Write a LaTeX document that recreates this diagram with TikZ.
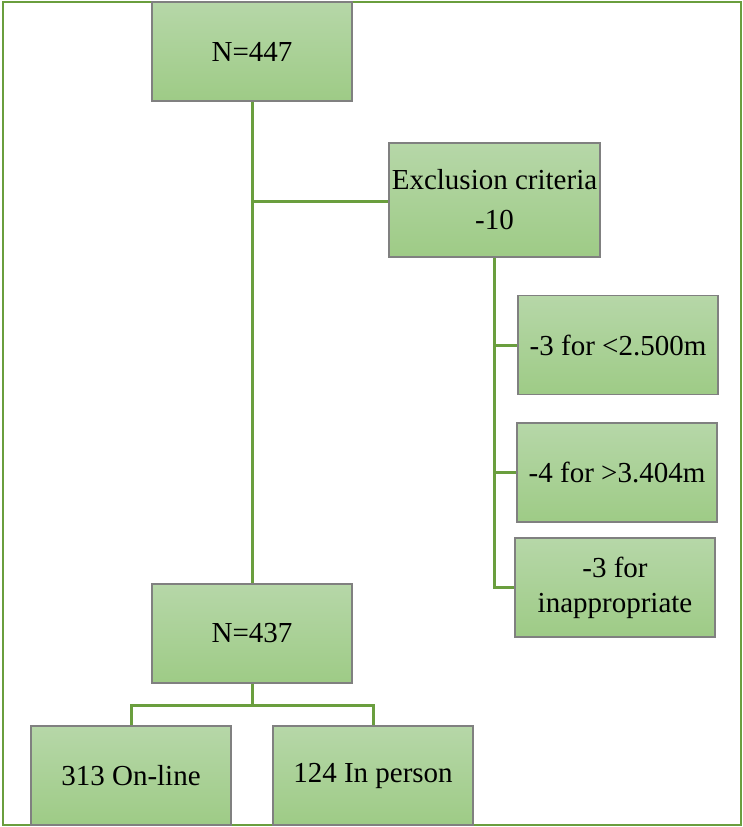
\documentclass[tikz,border=0pt]{standalone}
\usepackage{fontspec}
\setmainfont{Liberation Serif}
\begin{document}
\begin{tikzpicture}[x=1pt,y=-1pt,
  box/.style={draw=boxgray, line width=1.2pt, top color=topgreen, bottom color=botgreen,
    minimum width=200pt, minimum height=99pt, inner sep=0pt, align=center,
    font=\fontsize{29}{40}\selectfont},
  link/.style={draw=linkgreen, line width=3pt}]
\definecolor{boxgray}{HTML}{808080}
\definecolor{topgreen}{HTML}{B6D7A8}
\definecolor{botgreen}{HTML}{9ECB86}
\definecolor{linkgreen}{HTML}{6A9E3E}
\useasboundingbox (0,0) rectangle (743,827);
\draw[draw=linkgreen, line width=2.6pt] (3,2) rectangle (741,825);
\node[box] (n447) at (252,51.5) {N=447};
\node[box, minimum width=211pt, minimum height=114pt] (excl) at (494.5,200) {Exclusion criteria\\-10};
\node[box] (c1) at (618,345) {-3 for <2.500m};
\node[box] (c2) at (617,472.5) {-4 for >3.404m};
\node[box, font=\fontsize{29}{35}\selectfont] (c3) at (615,587.5) {-3 for\\inappropriate};
\node[box] (n437) at (252,633.5) {N=437};
\node[box] (on) at (131,775.5) {313 On-line};
\node[box] (ip) at (373,775.5) {124 In person};
\coordinate (j1) at (252,201);
\coordinate (ex) at (494,345);
\coordinate (ey) at (494,472.5);
\coordinate (ez) at (494,587.5);
\coordinate (b1) at (131,705);
\coordinate (b2) at (373,705);
\draw[link] (n447.south) -- (n437.north);
\draw[link] (j1) -- (excl.west |- j1);
\draw[link] (excl.south -| ex) -- (ez) -- (c3.west);
\draw[link] (ex) -- (c1.west);
\draw[link] (ey) -- (c2.west);
\draw[link] (n437.south) -- (252,705);
\draw[link] (on.north) -- (b1) -- (b2) -- (ip.north);
\end{tikzpicture}
\end{document}
